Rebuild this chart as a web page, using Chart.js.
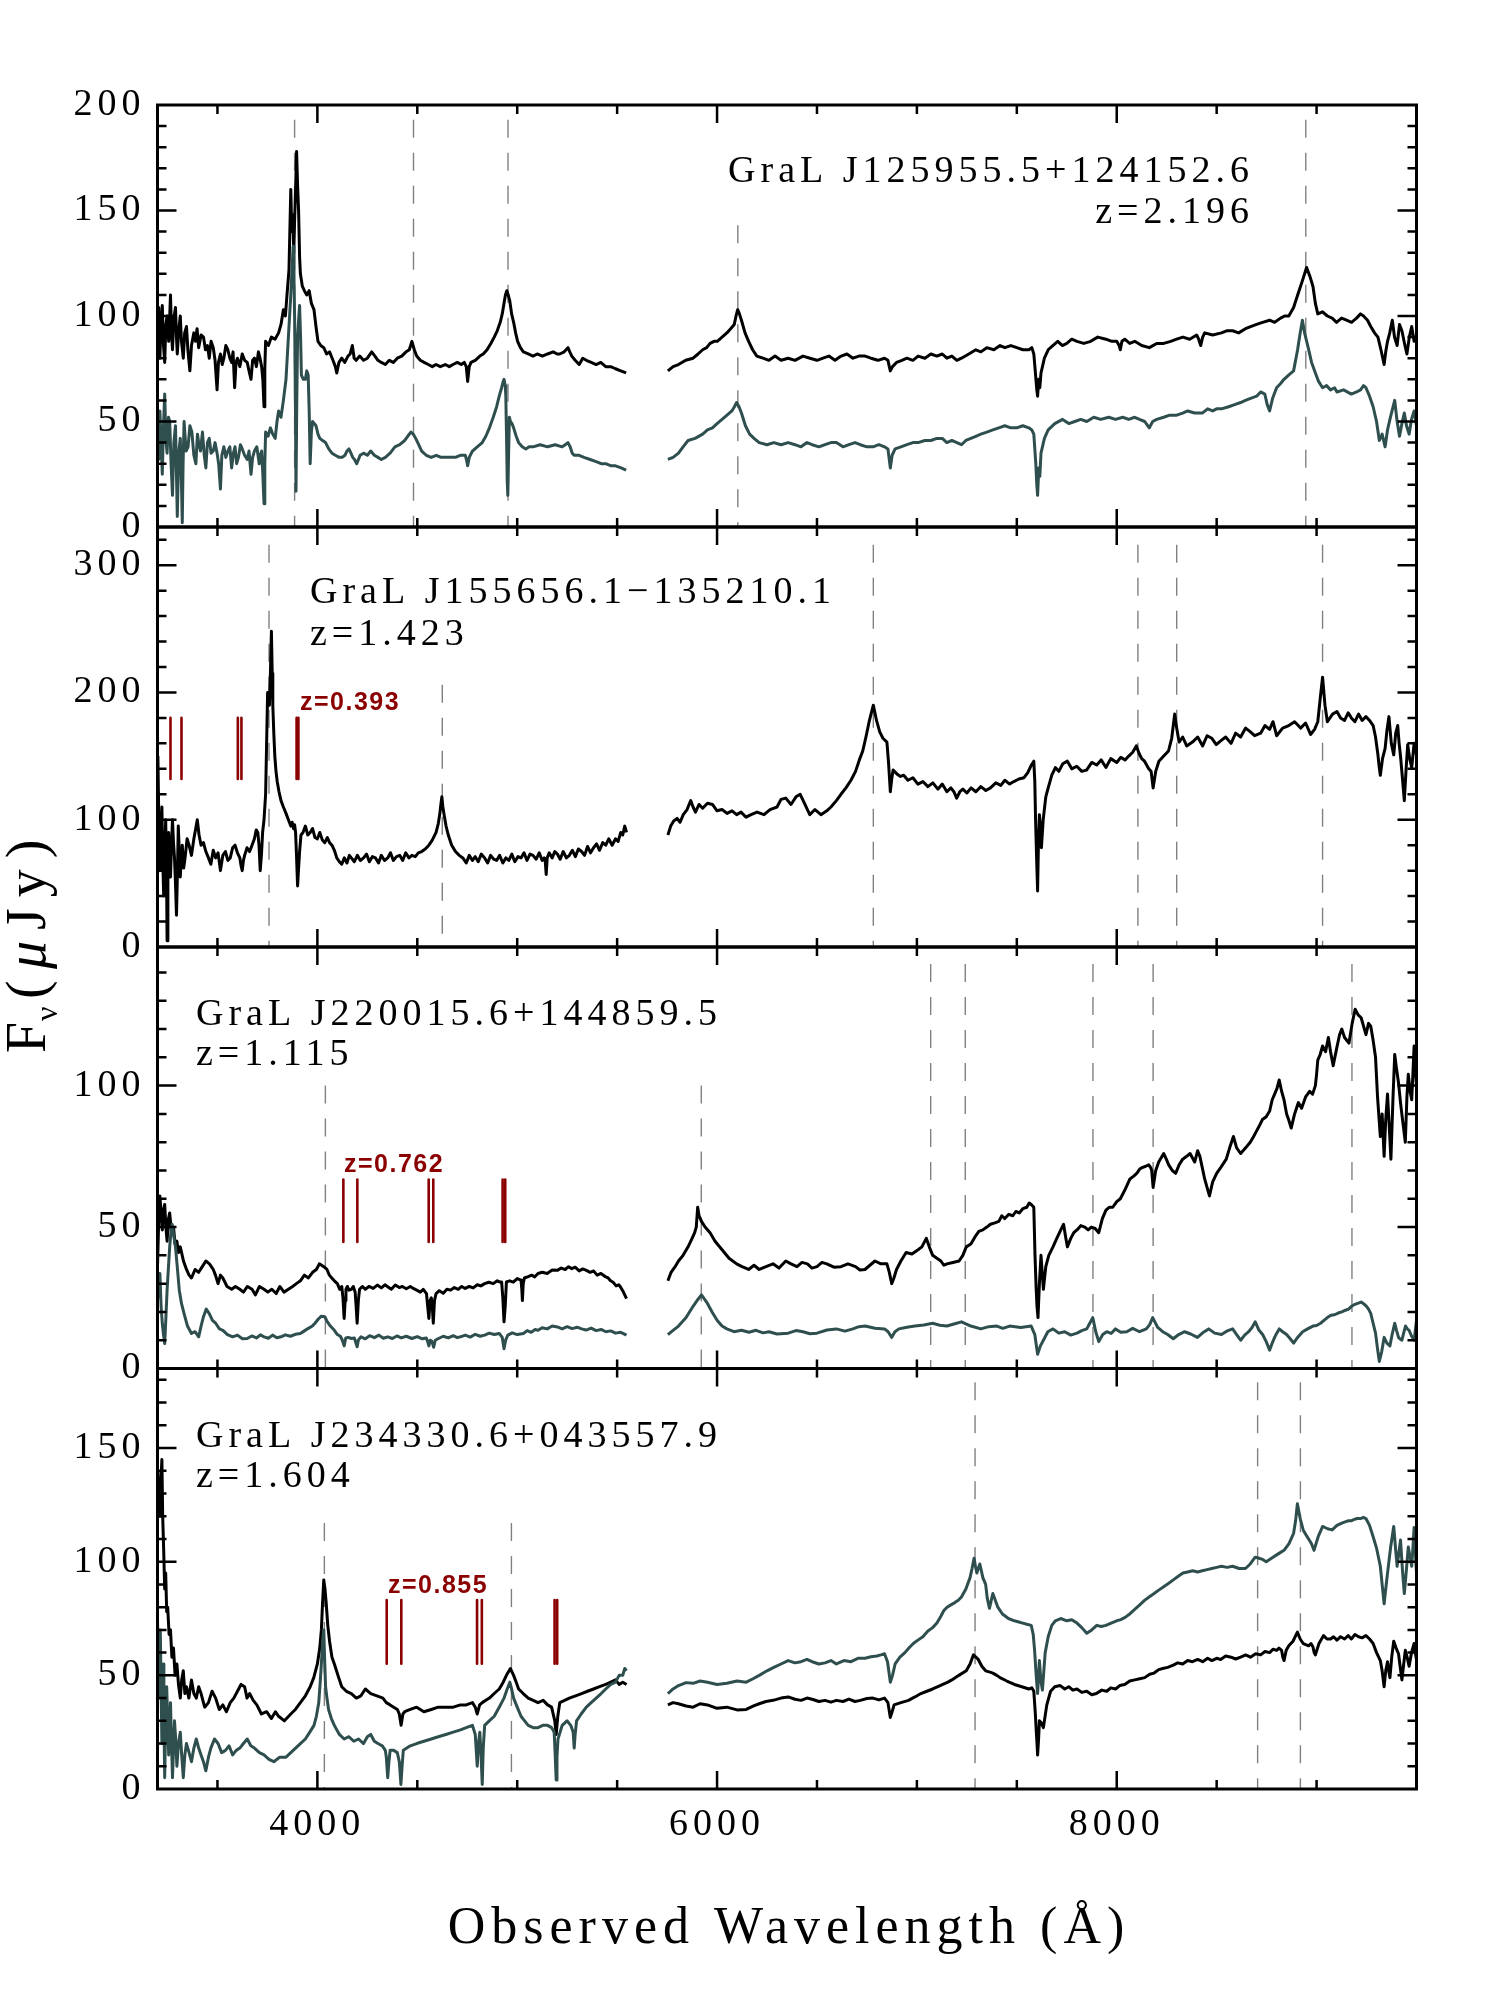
<!DOCTYPE html>
<html><head><meta charset="utf-8">
<script src="https://cdn.jsdelivr.net/npm/chart.js@4.4.1/dist/chart.umd.min.js"></script>
<style>
html,body{margin:0;padding:0;background:#fff;}
body{width:1495px;height:1991px;position:relative;overflow:hidden;}
canvas{position:absolute;left:0;top:0;}
</style></head>
<body>
<canvas id="c1" width="1495" height="1991"></canvas>
<canvas id="c2" width="1495" height="1991"></canvas>
<canvas id="c3" width="1495" height="1991"></canvas>
<canvas id="c4" width="1495" height="1991"></canvas>
<script>
// ---------------- DATA ----------------
const xMajorTicks = [4000, 6000, 8000];
const xMinorTicks = [3500, 4500, 5000, 5500, 6500, 7000, 7500, 8500, 9000];
const p1YTicks = [0, 50, 100, 150, 200];
const p2YTicks = [0, 100, 200, 300];
const p3YTicks = [0, 50, 100];
const p4YTicks = [0, 50, 100, 150];

const p1Name = 'GraL J125955.5+124152.6', p1Z = 'z=2.196';
const p2Name = 'GraL J155656.1\u2212135210.1', p2Z = 'z=1.423';
const p3Name = 'GraL J220015.6+144859.5', p3Z = 'z=1.115';
const p4Name = 'GraL J234330.6+043557.9', p4Z = 'z=1.604';
const p2AbsLabel = 'z=0.393', p3AbsLabel = 'z=0.762', p4AbsLabel = 'z=0.855';

// quasar emission lines (dashed) and the flux they reach
const p1EmLines = [3886, 4481, 4954, 6104, 8946];
const p1EmTops  = [193, 193, 193, 143, 193];
const p2EmLines = [3758, 4625, 6782, 8106, 8300, 9030];
const p2EmTops  = [316, 206, 316, 316, 316, 316];
const p3EmLines = [4040, 5921, 7069, 7242, 7881, 8182, 9177];
const p3EmTops  = [100, 100, 143, 143, 143, 143, 143];
const p4EmLines = [4035, 4971, 7291, 8705, 8919];
const p4EmTops  = [117, 117, 179, 179, 179];

// absorber line markers (red)
const p2AbsLines = [3265, 3320, 3602, 3620, 3896, 3905];
const p2AbsRange = [132, 180];
const p3AbsLines = [4130, 4200, 4557, 4580, 4927, 4940];
const p3AbsRange = [44.7, 66.8];
const p4AbsLines = [4347, 4420, 4799, 4823, 5187, 5200];
const p4AbsRange = [55.1, 83.1];

// spectra [wavelength, flux]
const p1BlackBlue = [[3200,95],[3206,104],[3212,80],[3218,98],[3224,105],[3230,86],[3236,78],[3242,96],[3248,100],[3256,88],[3260,97],[3265,110],[3270,92],[3275,84],[3282,99],[3290,104],[3295,90],[3299,82],[3306,93],[3314,100],[3320,88],[3329,80],[3336,92],[3345,95],[3352,84],[3362,74],[3370,86],[3382,92],[3390,88],[3398,94],[3406,85],[3418,91],[3430,90],[3440,84],[3450,86],[3459,80],[3468,88],[3479,85],[3488,79],[3498,65],[3505,78],[3515,82],[3524,77],[3532,80],[3542,86],[3552,84],[3562,80],[3571,78],[3578,83],[3586,66],[3593,78],[3600,80],[3612,76],[3624,82],[3636,79],[3649,78],[3658,74],[3668,70],[3676,79],[3685,80],[3695,76],[3705,83],[3713,80],[3721,76],[3727,70],[3733,57],[3737,75],[3741,88],[3755,86],[3770,90],[3788,89],[3806,92],[3818,96],[3830,103],[3840,100],[3848,110],[3858,122],[3867,160],[3872,140],[3877,148],[3882,130],[3886,145],[3891,160],[3896,178],[3901,162],[3906,150],[3911,128],[3915,120],[3925,114],[3935,112],[3947,110],[3959,112],[3970,106],[3983,103],[3993,95],[4003,88],[4017,86],[4032,85],[4046,82],[4061,83],[4078,79],[4090,76],[4097,73],[4108,78],[4122,80],[4137,78],[4153,81],[4164,82],[4175,86],[4184,80],[4194,79],[4212,81],[4231,79],[4250,80],[4272,83],[4288,81],[4303,79],[4320,78],[4340,77],[4360,79],[4380,78],[4400,80],[4422,81],[4444,83],[4460,84],[4473,88],[4485,84],[4497,81],[4515,79],[4534,78],[4555,77],[4575,76],[4594,77],[4615,76],[4640,77],[4660,76],[4679,77],[4700,78],[4720,77],[4735,78],[4745,76],[4752,69],[4760,76],[4769,78],[4790,79],[4813,81],[4830,82],[4849,84],[4868,87],[4885,90],[4900,93],[4915,97],[4925,101],[4934,106],[4941,110],[4948,112],[4955,110],[4963,107],[4972,101],[4982,97],[4992,92],[5002,88],[5016,85],[5031,83],[5055,82],[5079,81],[5100,82],[5126,81],[5152,82],[5180,83],[5200,82],[5213,82],[5235,83],[5254,85],[5263,83],[5273,81],[5290,79],[5310,77],[5328,80],[5346,79],[5370,78],[5395,77],[5418,78],[5443,76],[5468,76],[5492,75],[5518,74],[5545,73]];
const p1BlackRed = [[5754,74],[5780,76],[5807,77],[5843,79],[5880,80],[5905,82],[5928,84],[5948,85],[5965,87],[5985,88],[6001,88],[6025,90],[6049,92],[6068,94],[6086,96],[6095,100],[6103,103],[6112,101],[6122,98],[6140,92],[6158,88],[6178,84],[6199,81],[6230,80],[6260,79],[6290,81],[6320,79],[6356,80],[6390,79],[6430,81],[6465,80],[6500,79],[6530,80],[6560,81],[6590,79],[6621,81],[6650,82],[6680,80],[6710,81],[6741,81],[6770,80],[6805,79],[6838,80],[6855,79],[6862,76],[6867,74],[6878,76],[6898,78],[6925,79],[6950,80],[6980,79],[7006,81],[7040,80],[7070,82],[7100,81],[7127,82],[7150,80],[7175,81],[7200,79],[7223,80],[7260,82],[7295,84],[7320,83],[7350,85],[7385,84],[7416,86],[7440,85],[7470,86],[7500,85],[7530,84],[7560,84],[7575,85],[7585,82],[7594,72],[7600,65],[7604,62],[7610,70],[7615,66],[7621,73],[7638,80],[7657,84],[7680,86],[7705,88],[7728,86],[7750,87],[7775,89],[7801,88],[7835,87],[7870,88],[7905,90],[7946,89],[7975,88],[8000,88],[8012,86],[8018,84],[8026,88],[8040,89],[8065,87],[8090,88],[8125,86],[8163,85],[8200,87],[8235,87],[8270,88],[8300,89],[8331,90],[8365,89],[8400,91],[8410,89],[8420,86],[8430,90],[8440,92],[8480,91],[8524,92],[8550,93],[8580,93],[8610,92],[8644,94],[8670,95],[8700,96],[8730,97],[8765,98],[8790,97],[8820,99],[8840,100],[8861,100],[8885,104],[8909,111],[8930,117],[8950,123],[8966,119],[8982,114],[8994,106],[9006,101],[9030,102],[9054,100],[9078,99],[9100,97],[9125,99],[9150,98],[9175,97],[9200,99],[9220,101],[9235,100],[9255,98],[9271,95],[9290,92],[9307,90],[9322,84],[9338,77],[9346,83],[9355,88],[9366,92],[9379,98],[9390,90],[9403,86],[9415,96],[9427,93],[9440,87],[9452,82],[9464,90],[9476,95],[9488,88],[9500,90]];
const p1TealBlue = [[3200,45],[3206,32],[3212,55],[3218,40],[3224,25],[3230,48],[3236,63],[3242,42],[3248,35],[3255,52],[3261,50],[3268,30],[3275,15],[3282,40],[3290,48],[3295,25],[3299,5],[3306,35],[3314,42],[3320,20],[3324,2],[3328,30],[3333,50],[3343,36],[3353,38],[3362,48],[3372,45],[3382,34],[3392,30],[3400,44],[3406,40],[3415,36],[3425,45],[3434,34],[3442,28],[3450,40],[3459,42],[3468,35],[3479,36],[3488,40],[3498,35],[3506,30],[3515,18],[3522,34],[3532,38],[3542,33],[3552,36],[3562,38],[3571,28],[3580,35],[3588,38],[3596,30],[3605,33],[3615,39],[3624,37],[3636,34],[3649,32],[3658,36],[3668,25],[3676,33],[3685,36],[3697,38],[3709,30],[3715,34],[3721,36],[3727,25],[3733,11],[3737,30],[3741,45],[3753,43],[3765,47],[3777,44],[3789,42],[3798,50],[3806,55],[3818,52],[3830,60],[3843,70],[3855,90],[3867,110],[3873,122],[3879,133],[3883,118],[3886,100],[3890,60],[3893,17],[3897,60],[3901,90],[3906,98],[3911,105],[3916,90],[3920,72],[3930,70],[3940,70],[3947,74],[3954,72],[3959,55],[3964,30],[3970,45],[3976,50],[3985,49],[3993,48],[4003,44],[4012,42],[4026,41],[4041,40],[4057,37],[4073,35],[4090,34],[4109,33],[4124,33],[4138,34],[4148,36],[4158,37],[4168,35],[4177,33],[4186,32],[4197,30],[4214,34],[4231,35],[4250,34],[4267,36],[4285,34],[4303,33],[4320,32],[4340,33],[4364,35],[4388,38],[4412,39],[4437,41],[4452,43],[4468,45],[4480,44],[4492,42],[4507,39],[4522,36],[4545,34],[4570,33],[4595,34],[4619,33],[4655,33],[4691,33],[4715,34],[4740,34],[4746,32],[4752,29],[4760,33],[4776,36],[4800,38],[4825,40],[4843,43],[4861,47],[4880,52],[4897,57],[4910,62],[4922,66],[4930,69],[4934,70],[4940,67],[4943,62],[4947,40],[4950,22],[4953,15],[4957,35],[4961,52],[4966,50],[4974,49],[4982,47],[4995,43],[5007,40],[5025,38],[5043,37],[5060,38],[5079,38],[5115,39],[5152,38],[5190,39],[5225,38],[5240,39],[5254,40],[5265,38],[5275,35],[5285,34],[5310,34],[5334,33],[5365,32],[5395,31],[5420,30],[5443,30],[5470,29],[5492,29],[5520,28],[5545,27]];
const p1TealRed = [[5754,32],[5780,33],[5807,35],[5830,38],[5855,41],[5890,42],[5928,44],[5952,46],[5977,47],[6000,49],[6025,51],[6050,53],[6074,55],[6087,57],[6098,59],[6110,57],[6122,54],[6142,48],[6163,44],[6185,42],[6211,40],[6250,39],[6284,40],[6320,39],[6356,40],[6390,39],[6420,38],[6450,40],[6476,39],[6510,38],[6540,39],[6570,40],[6597,40],[6630,38],[6660,39],[6690,40],[6717,39],[6750,38],[6780,38],[6810,39],[6838,38],[6855,37],[6867,28],[6876,34],[6891,37],[6920,38],[6950,39],[6980,40],[7006,40],[7040,41],[7070,41],[7100,42],[7127,42],[7150,40],[7175,41],[7200,40],[7223,39],[7245,41],[7270,42],[7295,43],[7320,44],[7350,45],[7380,46],[7410,47],[7440,48],[7470,47],[7500,47],[7530,48],[7560,47],[7575,46],[7585,44],[7595,30],[7600,20],[7604,15],[7610,28],[7615,24],[7621,35],[7638,42],[7657,46],[7690,49],[7729,51],[7760,49],[7790,50],[7820,51],[7850,50],[7885,52],[7920,51],[7960,52],[7994,51],[8030,52],[8060,51],[8090,52],[8114,51],[8140,50],[8155,48],[8163,47],[8180,50],[8200,51],[8235,52],[8265,53],[8300,53],[8330,54],[8355,55],[8390,54],[8428,54],[8455,56],[8480,55],[8500,56],[8524,56],[8560,57],[8590,58],[8620,59],[8644,60],[8670,61],[8700,62],[8720,64],[8741,63],[8753,58],[8765,55],[8780,61],[8800,66],[8820,68],[8837,70],[8860,72],[8885,74],[8905,84],[8918,92],[8929,98],[8940,92],[8958,85],[8975,78],[8994,73],[9010,69],[9030,66],[9050,67],[9070,65],[9090,66],[9102,64],[9135,65],[9174,63],[9200,64],[9220,65],[9235,67],[9247,66],[9265,62],[9283,57],[9300,50],[9314,41],[9328,44],[9343,38],[9355,46],[9367,51],[9380,56],[9391,60],[9403,50],[9415,43],[9427,49],[9439,54],[9450,48],[9463,44],[9475,51],[9488,55],[9500,48]];

const p2BlackBlue = [[3202,150],[3207,95],[3212,60],[3217,85],[3222,110],[3226,70],[3231,40],[3236,75],[3241,100],[3245,60],[3248,5],[3252,50],[3256,90],[3260,70],[3265,55],[3270,80],[3275,100],[3280,82],[3285,70],[3290,50],[3295,25],[3300,60],[3304,95],[3309,75],[3314,55],[3319,70],[3324,80],[3331,62],[3338,70],[3348,85],[3358,80],[3370,72],[3382,85],[3390,92],[3399,100],[3408,88],[3418,80],[3430,82],[3442,75],[3455,70],[3467,65],[3479,76],[3491,70],[3503,74],[3515,60],[3527,72],[3540,75],[3552,68],[3564,70],[3576,78],[3588,80],[3600,74],[3612,70],[3618,64],[3624,60],[3630,68],[3636,72],[3648,78],[3661,75],[3673,80],[3685,85],[3694,92],[3702,90],[3708,80],[3714,60],[3720,72],[3726,90],[3733,100],[3741,120],[3746,160],[3751,200],[3756,195],[3760,190],[3765,215],[3770,248],[3774,215],[3777,190],[3782,168],[3787,150],[3793,138],[3799,130],[3808,122],[3818,115],[3830,110],[3843,105],[3855,100],[3867,95],[3874,98],[3881,93],[3886,96],[3891,90],[3896,70],[3901,48],[3906,62],[3911,75],[3918,88],[3928,90],[3940,95],[3952,88],[3964,90],[3976,93],[3988,86],[4000,85],[4012,90],[4025,84],[4037,82],[4050,86],[4061,82],[4073,80],[4085,76],[4097,70],[4110,67],[4122,65],[4135,70],[4148,66],[4160,72],[4170,70],[4185,67],[4200,72],[4215,68],[4231,70],[4246,73],[4260,67],[4275,71],[4291,70],[4306,66],[4320,72],[4336,68],[4352,70],[4366,74],[4380,68],[4396,71],[4412,72],[4427,68],[4442,74],[4458,70],[4473,72],[4490,71],[4505,74],[4522,75],[4540,77],[4558,80],[4575,84],[4594,90],[4605,97],[4613,105],[4618,112],[4623,118],[4628,110],[4633,105],[4644,95],[4655,88],[4672,80],[4691,75],[4710,72],[4728,70],[4745,66],[4760,72],[4776,68],[4790,71],[4805,67],[4820,73],[4837,70],[4852,66],[4867,72],[4882,69],[4897,68],[4912,72],[4928,66],[4943,70],[4958,68],[4973,73],[4988,67],[5004,71],[5019,70],[5034,74],[5049,68],[5064,73],[5079,72],[5095,69],[5110,74],[5125,68],[5135,70],[5140,68],[5145,57],[5150,70],[5160,74],[5175,70],[5188,75],[5201,73],[5215,69],[5230,75],[5246,70],[5261,72],[5276,76],[5291,71],[5306,77],[5322,75],[5337,72],[5352,79],[5367,74],[5382,78],[5397,81],[5412,76],[5428,82],[5443,80],[5458,85],[5475,80],[5492,85],[5505,83],[5518,90],[5528,88],[5538,95],[5547,90]];
const p2BlackRed = [[5754,88],[5768,95],[5783,99],[5800,101],[5815,98],[5831,104],[5850,108],[5868,115],[5880,110],[5892,106],[5910,112],[5928,109],[5952,113],[5977,112],[6000,107],[6025,108],[6050,105],[6075,107],[6098,104],[6120,106],[6145,102],[6170,104],[6200,106],[6235,104],[6265,108],[6300,110],[6320,116],[6344,117],[6370,112],[6395,118],[6416,120],[6428,116],[6440,112],[6452,108],[6464,104],[6490,108],[6520,104],[6549,107],[6570,110],[6597,115],[6620,120],[6645,125],[6670,131],[6693,138],[6712,147],[6729,154],[6745,165],[6761,177],[6772,184],[6782,190],[6798,178],[6814,169],[6830,164],[6850,161],[6858,145],[6867,122],[6874,132],[6881,139],[6900,136],[6918,134],[6934,135],[6955,131],[6980,133],[7005,128],[7030,130],[7055,126],[7080,129],[7105,124],[7127,128],[7150,122],[7170,125],[7185,122],[7199,117],[7215,122],[7230,124],[7250,121],[7271,125],[7295,122],[7320,126],[7345,123],[7368,125],[7395,129],[7420,127],[7440,131],[7464,128],[7485,130],[7510,132],[7536,133],[7555,137],[7573,143],[7585,146],[7590,130],[7594,99],[7599,70],[7604,44],[7608,80],[7613,104],[7618,95],[7623,78],[7632,100],[7645,118],[7657,125],[7675,135],[7693,141],[7710,138],[7730,144],[7753,146],[7775,140],[7800,142],[7825,138],[7849,139],[7875,145],[7900,143],[7922,147],[7946,141],[7970,148],[8000,145],[8020,149],[8042,147],[8060,150],[8080,153],[8098,158],[8112,152],[8125,148],[8139,146],[8160,140],[8172,138],[8182,125],[8195,138],[8211,146],[8235,150],[8259,154],[8275,164],[8290,183],[8300,172],[8312,161],[8330,165],[8350,158],[8379,161],[8405,165],[8430,158],[8452,166],[8476,164],[8498,159],[8520,162],[8545,165],[8572,160],[8595,168],[8620,165],[8645,172],[8669,169],[8690,166],[8720,168],[8742,174],[8765,171],[8782,177],[8800,166],[8830,172],[8861,174],[8890,177],[8920,172],[8945,176],[8970,167],[8990,171],[9006,177],[9018,195],[9030,212],[9042,190],[9054,177],[9080,183],[9102,185],[9120,180],[9140,178],[9158,184],[9174,180],[9192,177],[9210,183],[9228,178],[9247,181],[9265,178],[9283,174],[9295,165],[9307,151],[9313,142],[9319,135],[9330,148],[9343,156],[9352,170],[9362,181],[9374,160],[9386,151],[9396,168],[9406,174],[9413,160],[9420,150],[9430,132],[9439,115],[9448,140],[9456,159],[9466,148],[9476,141],[9488,160],[9500,151]];

const p3BlackBlue = [[3200,36],[3206,52],[3212,61],[3218,55],[3224,49],[3230,56],[3236,58],[3242,50],[3248,45],[3255,53],[3261,55],[3270,48],[3280,50],[3288,44],[3297,45],[3305,41],[3314,43],[3330,38],[3345,35],[3358,33],[3370,32],[3388,35],[3406,34],[3424,36],[3442,38],[3460,37],[3479,35],[3490,33],[3503,30],[3515,33],[3527,32],[3548,29],[3571,28],[3590,29],[3612,28],[3630,27],[3650,29],[3673,28],[3690,26],[3710,29],[3733,28],[3752,27],[3772,28],[3794,26.5],[3812,29],[3833,27],[3855,28],[3876,29],[3895,30],[3915,31],[3935,33],[3955,32],[3976,34],[3995,35],[4010,37],[4032,36],[4048,35],[4060,33],[4072,32],[4085,31],[4100,30],[4112,28],[4122,29],[4128,25],[4134,17.7],[4139,24],[4143,28],[4150,29],[4158,27.7],[4170,28],[4180,29],[4189,27],[4194,22],[4199,16],[4205,24],[4211,28],[4225,29],[4240,28],[4258,29],[4279,28.3],[4300,29.5],[4320,28.5],[4338,29.6],[4352,28.9],[4370,28],[4390,29.5],[4410,28.6],[4425,29],[4445,28.2],[4465,29],[4480,28.3],[4497,27.7],[4515,27],[4530,28],[4546,26.5],[4552,22],[4558,17.7],[4564,24],[4570,25],[4575,22],[4580,16],[4586,24],[4594,26.5],[4610,27.5],[4630,26.6],[4648,28],[4667,27.7],[4685,28.6],[4705,28],[4722,29],[4740,28.3],[4760,29],[4780,28.5],[4800,29.6],[4818,29.2],[4837,30],[4858,30.5],[4880,30],[4900,31],[4915,30.5],[4922,30.6],[4928,25],[4934,16.5],[4940,22],[4946,30.6],[4962,31],[4980,30.5],[5000,31.8],[5019,31.2],[5023,28],[5026,24],[5030,30],[5036,32],[5055,32.5],[5072,33],[5088,32.4],[5104,33.6],[5125,34],[5150,33.6],[5175,34.8],[5201,34.7],[5220,35.5],[5240,35],[5257,36],[5273,35.3],[5290,35.8],[5310,34.5],[5328,35.2],[5346,34.7],[5365,34],[5382,34.5],[5400,33],[5419,33.6],[5440,32.5],[5455,32],[5467,31],[5480,30.5],[5495,29.2],[5508,29.6],[5516,28.9],[5528,27.5],[5538,26],[5547,24.7]];
const p3BlackRed = [[5754,31],[5770,34],[5790,36],[5807,38],[5830,40],[5855,43],[5875,46],[5888,48],[5896,50],[5903,57],[5910,54],[5922,52],[5940,50],[5965,48],[5990,45],[6025,42],[6060,39],[6098,37],[6125,36],[6158,35],[6185,36.5],[6211,35],[6245,36],[6280,37],[6310,35.5],[6344,38],[6370,37],[6400,36],[6425,37.5],[6452,37],[6475,35.5],[6500,36],[6525,37.5],[6549,37],[6585,35.8],[6620,36],[6655,37],[6693,36],[6715,34.8],[6740,35],[6765,36.5],[6790,38],[6820,37],[6850,37],[6862,34],[6874,30],[6885,32],[6898,35],[6920,38],[6946,41],[6975,40.5],[7006,42],[7025,43],[7047,46],[7062,43],[7079,40],[7100,39],[7120,38],[7135,36.5],[7151,37],[7180,37.5],[7211,38],[7230,40],[7247,43],[7270,44],[7295,47],[7310,48.5],[7330,49],[7350,50],[7368,51],[7390,51.5],[7410,52],[7425,54],[7440,53],[7460,54.5],[7480,54],[7495,55.5],[7512,55],[7530,56.5],[7550,57],[7562,58.5],[7572,58],[7585,57],[7591,40],[7597,28],[7601,22],[7606,18],[7613,30],[7621,40],[7627,34],[7633,28],[7645,36],[7660,40],[7681,43],[7700,46],[7720,49],[7734,51],[7743,47],[7753,43],[7770,46],[7785,48],[7801,49],[7820,50.5],[7840,50],[7857,49],[7873,50],[7892,49.5],[7910,48],[7928,53],[7946,56],[7962,57],[7980,57],[8000,59],[8018,60],[8040,63],[8066,67],[8085,68],[8100,69],[8115,70.5],[8127,71],[8145,71.5],[8160,72],[8170,71],[8175,70],[8182,64],[8195,70],[8210,73],[8235,76],[8248,74],[8260,72],[8278,70],[8295,69],[8312,72],[8330,74],[8350,75],[8367,76],[8390,73],[8405,77],[8416,75],[8428,71],[8440,67],[8452,64],[8464,61],[8480,66],[8500,69],[8520,71],[8548,74],[8565,78],[8584,82],[8600,78],[8620,76],[8645,78],[8668,80],[8685,82],[8700,84],[8715,86],[8729,88],[8748,89],[8765,91],[8778,95],[8790,97],[8802,99],[8813,102],[8825,98],[8837,95],[8850,90],[8860,88],[8873,85],[8890,90],[8909,94],[8925,92],[8945,96],[8965,98],[8980,97],[8994,100],[9000,104],[9006,109],[9018,111],[9030,114],[9045,112],[9059,117],[9070,112],[9083,107],[9100,113],[9115,118],[9126,120],[9140,117],[9162,115],[9178,122],[9193,127],[9208,125],[9223,124],[9235,121],[9247,118],[9260,122],[9271,121],[9283,116],[9295,110],[9305,96],[9319,82],[9328,90],[9338,75],[9346,88],[9355,97],[9364,85],[9372,74],[9382,95],[9391,111],[9400,106],[9410,101],[9420,94],[9430,88],[9437,84],[9444,80],[9452,96],[9459,104],[9468,98],[9476,95],[9482,104],[9488,114],[9494,106],[9500,100]];
const p3TealBlue = [[3200,24],[3206,30],[3212,33.6],[3218,22],[3224,16],[3230,12],[3236,8.8],[3242,18],[3248,27.7],[3255,36],[3261,43],[3267,48],[3273,51],[3281,47],[3290,43],[3300,35],[3309,27.7],[3320,23],[3333,19.4],[3350,15],[3370,12.4],[3388,13],[3406,11.2],[3418,15],[3430,18.3],[3444,21],[3459,19.4],[3475,17],[3491,16],[3510,14],[3527,13.5],[3550,12],[3576,11.2],[3600,11.8],[3625,10.5],[3649,10.6],[3672,11.5],[3695,10.8],[3715,11.9],[3733,11.2],[3755,10.7],[3776,11.8],[3797,10.9],[3818,11.2],[3840,11.9],[3865,11.4],[3890,12.1],[3915,12.4],[3935,13.3],[3955,14.2],[3975,15],[3988,16],[4005,17.5],[4020,18.5],[4037,18.3],[4050,16.5],[4065,15],[4085,13.5],[4100,12],[4115,11.4],[4125,10],[4134,8],[4142,10.8],[4155,11],[4170,10.6],[4185,10.8],[4193,9],[4199,7.7],[4205,10],[4218,11.2],[4240,10.5],[4262,11.6],[4285,10.9],[4308,11.8],[4330,10.7],[4352,11.2],[4375,10.6],[4398,11.5],[4420,10.8],[4445,11.4],[4473,10.6],[4500,11.3],[4525,10.5],[4545,10.8],[4552,9.5],[4558,8],[4565,10],[4573,9.6],[4582,7.5],[4590,10],[4606,10.6],[4630,11.4],[4655,10.8],[4680,11.6],[4700,10.9],[4716,11.2],[4740,11.8],[4765,11.1],[4790,12.1],[4815,11.4],[4837,11.8],[4860,12.5],[4885,12],[4910,12.4],[4925,11],[4934,7],[4942,10],[4953,11.8],[4975,12.6],[5000,12],[5031,12.4],[5050,13.4],[5070,12.8],[5090,13.8],[5104,13.5],[5125,14.4],[5150,14],[5175,15],[5201,14.7],[5225,14],[5250,14.8],[5275,14.1],[5300,14.6],[5322,14],[5345,13.6],[5370,14.3],[5395,13.4],[5420,13.8],[5443,13],[5468,13.3],[5492,12.5],[5518,12.8],[5547,11.8]];
const p3TealRed = [[5754,12],[5780,13.5],[5807,15],[5845,18],[5880,22],[5905,24.5],[5922,26],[5937,24.5],[5952,23],[5975,20],[6001,17],[6025,15],[6049,14],[6085,13],[6122,13.5],[6160,12.8],[6195,13.5],[6230,12.6],[6260,13],[6300,12.2],[6356,12.5],[6395,13.4],[6430,13],[6465,12.3],[6500,12.5],[6550,13.6],[6597,14],[6640,13.2],[6680,14],[6710,14.8],[6741,15],[6790,14.2],[6838,14],[6856,13],[6874,11],[6890,13],[6910,14],[6950,14.6],[6990,15],[7035,15.4],[7079,16],[7115,15.3],[7150,15],[7190,15.8],[7223,16.5],[7270,15],[7320,14],[7360,14.8],[7400,15],[7430,14.2],[7464,15],[7520,14.5],[7572,15],[7590,12],[7604,5],[7618,8],[7633,10],[7655,13],[7681,14],[7710,12.5],[7740,13],[7770,11.8],[7801,12.5],[7825,13.4],[7850,14],[7865,16],[7880,18],[7895,13],[7910,9.5],[7930,12],[7950,13],[7972,12.4],[7994,14],[8020,12.8],[8050,13],[8080,14.2],[8114,13],[8148,14],[8165,15.5],[8180,18],[8205,14.5],[8230,13],[8255,12],[8283,10.5],[8310,12],[8340,13],[8370,12.2],[8404,11],[8430,12.6],[8460,14],[8490,12.5],[8524,12],[8550,13.2],[8580,14],[8600,12],[8620,10],[8640,11.8],[8660,13],[8677,14.5],[8693,16.5],[8712,13.5],[8730,12],[8748,9.5],[8765,6.5],[8778,9],[8790,11],[8800,12.4],[8813,14],[8830,13],[8850,12],[8868,10.5],[8885,9],[8905,11],[8930,13],[8955,14],[8982,15],[9000,15.2],[9020,16],[9037,17],[9054,18],[9072,18.8],[9090,19],[9108,19.6],[9126,20],[9145,20.6],[9160,21],[9172,21.8],[9186,22.5],[9205,23],[9223,23.5],[9237,22.8],[9250,22],[9260,21],[9271,19.5],[9283,16],[9295,12.5],[9305,7],[9314,2.5],[9326,6],[9338,11],[9352,9],[9367,8],[9378,12],[9391,16],[9400,13.5],[9410,11],[9418,10.4],[9427,10],[9436,12.6],[9445,15],[9454,14],[9463,13.5],[9475,11.5],[9488,10],[9494,13.5],[9500,17]];

const p4BlackBlue = [[3202,140],[3206,125],[3212,120],[3217,135],[3222,145],[3226,120],[3231,105],[3236,88],[3241,95],[3246,78],[3251,80],[3258,68],[3265,70],[3272,58],[3280,62],[3288,50],[3297,55],[3305,46],[3314,40],[3321,48],[3329,52],[3337,42],[3345,45],[3357,40],[3370,48],[3382,42],[3394,40],[3406,45],[3418,42],[3436,36],[3455,38],[3473,43],[3491,40],[3509,35],[3527,37],[3545,34],[3564,38],[3582,40],[3600,43],[3618,46],[3636,45],[3648,40],[3661,42],[3679,39],[3697,37],[3720,33],[3746,34],[3770,31],[3790,34],[3806,32],[3835,30],[3867,33],[3890,35],[3915,38],[3940,41],[3964,45],[3982,49],[4000,55],[4012,62],[4020,70],[4026,82],[4032,92],[4038,88],[4044,82],[4052,72],[4061,65],[4073,58],[4085,55],[4103,50],[4122,45],[4145,43],[4170,42],[4195,40],[4218,41],[4240,44],[4267,42],[4298,41],[4328,40],[4345,38],[4364,37],[4382,36],[4400,35],[4410,33],[4419,28],[4428,33],[4437,34],[4465,35],[4497,36],[4533,34],[4570,35],[4605,36],[4643,36],[4680,36],[4716,37],[4745,37],[4776,38],[4790,36],[4800,33],[4812,37],[4825,38],[4843,39],[4861,40],[4885,42],[4910,44],[4930,47],[4946,50],[4966,53],[4982,50],[4995,47],[5007,44],[5030,42],[5055,40],[5080,39],[5104,38],[5130,39],[5152,37],[5172,36],[5188,30],[5195,24],[5203,32],[5213,38],[5237,39],[5261,40],[5292,41],[5322,42],[5352,43],[5382,44],[5412,45],[5443,46],[5468,47],[5492,48],[5510,46],[5528,47],[5547,46]];
const p4BlackRed = [[5754,37],[5780,38],[5807,37.5],[5845,36.5],[5880,36],[5915,37.5],[5952,37],[6000,35.5],[6049,36],[6100,34.8],[6146,35],[6180,36.5],[6211,37.5],[6245,38.5],[6280,39],[6320,40],[6356,40.5],[6390,39.5],[6420,39],[6450,40],[6476,39.5],[6510,38.5],[6540,39],[6570,38.2],[6597,39],[6630,38.5],[6660,39.5],[6690,38.5],[6717,39],[6750,39.8],[6780,40],[6810,39.2],[6838,40],[6855,38],[6867,31.5],[6876,34],[6886,37],[6920,38],[6958,39],[6990,40.5],[7020,42],[7050,43],[7079,44],[7105,45],[7130,46],[7155,47],[7175,48],[7210,50],[7247,52],[7266,55],[7283,59],[7295,58],[7307,57],[7325,54],[7344,52],[7362,51.5],[7380,51],[7400,50],[7416,49],[7450,47.5],[7488,46],[7525,45],[7560,44],[7575,44.5],[7585,43],[7592,34],[7597,26],[7601,20],[7604,15],[7609,22],[7613,30],[7623,29],[7633,27],[7650,37],[7669,43],[7690,45],[7717,45.5],[7740,44],[7760,45],[7780,43.5],[7801,44],[7825,42.5],[7850,43],[7875,41.5],[7898,42],[7925,43.5],[7950,43],[7970,44.5],[7994,44],[8015,45.5],[8040,46],[8065,47.5],[8090,48],[8115,48.5],[8140,49],[8165,50.5],[8187,51],[8210,52.5],[8230,53],[8255,53.5],[8283,54.5],[8305,55.5],[8330,55],[8355,56.5],[8379,56],[8405,57],[8430,56],[8455,57.5],[8476,56.5],[8500,57.5],[8520,57],[8545,58.5],[8572,58],[8595,57.2],[8620,58],[8645,59],[8669,58],[8695,59.5],[8720,59],[8742,60.5],[8765,60],[8782,61.5],[8800,61],[8812,62],[8825,61],[8831,58],[8837,56.5],[8848,61],[8861,63],[8882,65],[8904,69],[8918,66],[8933,64],[8946,63.5],[8960,63],[8972,64],[8982,62.5],[8988,60],[8994,59],[9012,64],[9035,67.5],[9052,66],[9070,66],[9085,67],[9102,65.5],[9120,67],[9140,66],[9158,67.5],[9174,66],[9192,68],[9210,67],[9228,66.5],[9247,67.5],[9265,66],[9283,64],[9300,60],[9319,56.5],[9328,52],[9338,45],[9346,52],[9355,56],[9361,52],[9367,49],[9376,58],[9386,65],[9398,62],[9410,59.5],[9418,54],[9427,48],[9436,55],[9444,61],[9453,58],[9463,54],[9475,60],[9488,64],[9494,60],[9500,57]];
const p4TealBlue = [[3200,75],[3204,55],[3207,40],[3211,60],[3214,70],[3218,45],[3222,20],[3226,35],[3229,55],[3232,30],[3236,5],[3240,25],[3246,45],[3251,30],[3256,15],[3260,28],[3265,38],[3270,20],[3275,5],[3280,18],[3285,30],[3291,22],[3297,10],[3305,20],[3314,25],[3321,15],[3329,5],[3337,15],[3345,20],[3358,16],[3370,12],[3382,18],[3394,22],[3406,18],[3418,15],[3430,12],[3442,8],[3455,14],[3467,18],[3485,22],[3503,20],[3521,16],[3540,17],[3558,19],[3576,15],[3594,17],[3612,18],[3630,20],[3649,22],[3667,19],[3685,18],[3710,16],[3733,15],[3758,13],[3782,12],[3812,14],[3843,14],[3867,16],[3891,18],[3915,20],[3940,22],[3962,25],[3983,28],[3995,32],[4007,38],[4015,48],[4022,58],[4027,66],[4032,70],[4036,58],[4041,45],[4048,40],[4056,35],[4070,31],[4085,28],[4110,24],[4134,22],[4158,23],[4182,21],[4206,22],[4231,20],[4250,23],[4267,24],[4285,21],[4303,20],[4325,19],[4340,17],[4345,14],[4352,5],[4358,12],[4364,17],[4382,17],[4400,16],[4410,12],[4418,2],[4424,10],[4430,17],[4465,19],[4497,20],[4533,21],[4570,22],[4605,23],[4643,24],[4680,25],[4716,26],[4745,27],[4776,28],[4790,24],[4800,10],[4806,20],[4813,25],[4819,15],[4825,2],[4830,18],[4837,28],[4860,30],[4885,32],[4910,36],[4934,40],[4950,44],[4963,47],[4972,44],[4982,40],[5000,36],[5019,32],[5037,30],[5055,28],[5080,27],[5104,27],[5128,28],[5152,28],[5172,27],[5185,25],[5190,15],[5195,4],[5199,14],[5204,22],[5225,28],[5249,30],[5268,28],[5280,25],[5285,18],[5290,24],[5297,30],[5320,33],[5346,36],[5370,38],[5395,40],[5420,42],[5443,44],[5468,46],[5492,47],[5510,50],[5528,50],[5538,53],[5547,52]];
const p4TealRed = [[5754,42],[5780,44],[5807,45.5],[5845,46.8],[5880,46.5],[5915,47.5],[5952,47],[6000,46],[6049,46.5],[6100,47.5],[6146,47],[6180,48.5],[6211,50],[6250,52],[6284,53.5],[6320,55],[6356,56.5],[6390,55.5],[6420,56],[6450,57],[6476,56],[6510,55],[6540,55.5],[6570,56.5],[6597,55],[6635,56.5],[6670,56],[6705,57.5],[6741,57.5],[6770,58.2],[6800,58.5],[6820,59],[6838,59.5],[6853,56],[6867,47],[6878,50],[6891,55],[6915,58],[6940,60],[6960,62],[6982,64],[7005,65.5],[7030,67],[7055,69.5],[7079,71],[7100,73],[7120,76],[7135,78.5],[7151,80],[7170,81],[7190,82],[7207,83],[7223,84.5],[7245,88],[7266,93],[7276,97],[7286,101.5],[7293,98],[7300,95],[7307,97],[7315,99],[7330,93],[7344,90],[7352,84],[7363,79.5],[7372,83],[7380,86],[7405,80],[7428,77],[7458,75],[7488,74],[7510,73.5],[7530,73],[7550,72.5],[7572,72],[7582,68],[7589,61],[7597,50],[7604,42],[7609,50],[7613,56.5],[7620,48],[7628,43.5],[7642,60],[7657,67],[7675,72],[7693,74],[7720,75],[7750,74],[7775,74.5],[7801,73],[7825,71],[7850,68.5],[7875,70],[7900,72],[7922,71.5],[7946,72],[7972,73],[8000,74],[8020,74.5],[8042,75.5],[8065,77],[8090,79],[8115,81],[8139,83],[8162,84.5],[8187,86],[8210,87.5],[8235,89],[8260,90.5],[8283,92],[8306,93.5],[8331,95],[8355,95.5],[8380,96],[8405,95.5],[8428,96],[8452,96.5],[8476,97],[8500,97.5],[8524,98],[8552,97.5],[8580,98],[8612,97],[8644,97],[8668,99],[8693,102],[8712,101.5],[8730,101],[8748,100],[8765,101],[8782,102],[8800,103],[8818,104],[8837,105],[8862,108],[8885,112.5],[8895,118],[8904,125.5],[8918,119],[8933,114],[8946,112],[8960,110],[8974,108],[8987,105],[9008,111],[9030,115.5],[9055,114.5],[9078,114],[9102,116],[9126,117],[9143,117.5],[9160,118],[9173,118],[9186,118.5],[9203,119],[9220,119],[9234,119.5],[9247,119],[9265,116],[9283,111],[9300,106],[9319,98],[9328,90],[9338,81.5],[9346,88],[9355,95],[9370,106],[9386,115.5],[9395,106],[9403,98],[9412,104],[9420,109.5],[9430,96],[9439,86],[9449,96],[9459,106.5],[9468,102],[9476,98],[9482,106],[9488,115],[9494,105],[9500,95]];

// ---------------- STYLE / LAYOUT ----------------
const BLACK = '#000000', TEAL = '#2f4f4f', RED = '#8b0000', GRAY = '#808080';
const X_MIN = 3200, X_MAX = 9500;
const PLOT_LEFT = 157.5, PLOT_RIGHT = 1416.5, PAGE_W = 1495, PAGE_H = 1991;
const SERIF = '"Liberation Serif", "DejaVu Serif", serif';

const panels = [
  { id:'c1', top:105, bottom:527, yMax:200, yTicks:p1YTicks, yMinorStep:10,
    black:[p1BlackBlue,p1BlackRed], teal:[p1TealBlue,p1TealRed],
    em:p1EmLines, emTop:p1EmTops, abs:null,
    name:p1Name, z:p1Z, align:'right', tx:1249, nameY:182, zY:223 },
  { id:'c2', top:527, bottom:947, yMax:330, yTicks:p2YTicks, yMinorStep:20,
    black:[p2BlackBlue,p2BlackRed], teal:[],
    em:p2EmLines, emTop:p2EmTops, abs:p2AbsLines, absRange:p2AbsRange,
    absLabel:p2AbsLabel, absX:300, absY:710,
    name:p2Name, z:p2Z, align:'left', tx:310, nameY:603, zY:645 },
  { id:'c3', top:947, bottom:1368.5, yMax:149, yTicks:p3YTicks, yMinorStep:10,
    black:[p3BlackBlue,p3BlackRed], teal:[p3TealBlue,p3TealRed],
    em:p3EmLines, emTop:p3EmTops, abs:p3AbsLines, absRange:p3AbsRange,
    absLabel:p3AbsLabel, absX:344, absY:1172,
    name:p3Name, z:p3Z, align:'left', tx:196, nameY:1025, zY:1065 },
  { id:'c4', top:1368.5, bottom:1789, yMax:185, yTicks:p4YTicks, yMinorStep:10,
    black:[p4BlackBlue,p4BlackRed], teal:[p4TealBlue,p4TealRed],
    em:p4EmLines, emTop:p4EmTops, abs:p4AbsLines, absRange:p4AbsRange,
    absLabel:p4AbsLabel, absX:388, absY:1593,
    name:p4Name, z:p4Z, align:'left', tx:196, nameY:1447, zY:1487, last:true }
];

const toXY = arr => arr.map(([x, y]) => ({x, y}));

const decoPlugin = {
  id: 'deco',
  beforeDraw(chart) { chart.ctx.letterSpacing = '5px'; },
  afterDraw(chart) {
    const p = panels.find(q => q.id === chart.canvas.id);
    const ctx = chart.ctx, a = chart.chartArea;
    const xs = chart.scales.x, ys = chart.scales.y;
    ctx.save();
    ctx.letterSpacing = '0px';
    ctx.strokeStyle = '#000';
    ctx.lineWidth = 2.5;
    ctx.beginPath();
    const vtick = (v, len) => {
      const px = xs.getPixelForValue(v);
      ctx.moveTo(px, a.top); ctx.lineTo(px, a.top + len);
      ctx.moveTo(px, a.bottom); ctx.lineTo(px, a.bottom - len);
    };
    const htick = (v, len) => {
      const py = ys.getPixelForValue(v);
      ctx.moveTo(a.left, py); ctx.lineTo(a.left + len, py);
      ctx.moveTo(a.right, py); ctx.lineTo(a.right - len, py);
    };
    xMinorTicks.forEach(v => vtick(v, 9));
    xMajorTicks.forEach(v => vtick(v, 18));
    for (let v = p.yMinorStep; v < p.yMax; v += p.yMinorStep) {
      if (!p.yTicks.includes(v)) htick(v, 9);
    }
    p.yTicks.forEach(v => { if (v > 0 && v < p.yMax) htick(v, 19); });
    ctx.stroke();
    ctx.lineWidth = 3;
    ctx.strokeRect(a.left, a.top, a.right - a.left, a.bottom - a.top);

    // panel labels
    ctx.fillStyle = '#000';
    ctx.font = '38px ' + SERIF;
    ctx.letterSpacing = '5px';
    ctx.textBaseline = 'alphabetic';
    ctx.textAlign = p.align;
    const tx = p.align === 'right' ? p.tx + 5 : p.tx;
    ctx.fillText(p.name, tx, p.nameY);
    ctx.fillText(p.z, tx, p.zY);

    if (p.absLabel) {
      ctx.fillStyle = RED;
      ctx.font = 'bold 25px "Liberation Sans", Arial, sans-serif';
      ctx.letterSpacing = '1.5px';
      ctx.textAlign = 'left';
      ctx.fillText(p.absLabel, p.absX, p.absY);
    }

    if (p.last) {
      // x-axis title
      ctx.fillStyle = '#000';
      ctx.font = '52px ' + SERIF;
      ctx.letterSpacing = '6px';
      ctx.textAlign = 'center';
      ctx.fillText('Observed Wavelength (\u00C5)', 789, 1943);
      // y-axis title (rotated)
      ctx.save();
      ctx.translate(45, 1053);
      ctx.rotate(-Math.PI / 2);
      ctx.textAlign = 'left';
      ctx.letterSpacing = '0px';
      ctx.font = '56px ' + SERIF;
      ctx.fillText('F', 0, 0);
      ctx.font = '32px ' + SERIF;
      ctx.fillText('\u03BD', 32, 12);
      ctx.font = '56px ' + SERIF;
      ctx.letterSpacing = '11px';
      ctx.fillText('(', 54, 0);
      ctx.font = 'italic 56px ' + SERIF;
      ctx.fillText('\u03BC', 54 + 19 + 11, 0);
      ctx.font = '56px ' + SERIF;
      ctx.fillText('Jy)', 54 + 19 + 11 + 28 + 11, 0);
      ctx.restore();
    }
    ctx.restore();
  }
};

panels.forEach(p => {
  const datasets = [];
  p.teal.forEach(s => datasets.push({ data: toXY(s), borderColor: TEAL, borderWidth: 3, order: 1 }));
  p.black.forEach(s => datasets.push({ data: toXY(s), borderColor: BLACK, borderWidth: 3, order: 2 }));
  if (p.abs) {
    p.abs.forEach(w => datasets.push({
      data: [{x: w, y: p.absRange[1]}, {x: w, y: p.absRange[0]}],
      borderColor: RED, borderWidth: 2.6, order: 3 }));
  }
  p.em.forEach((w, i) => datasets.push({
    data: [{x: w, y: p.emTop[i]}, {x: w, y: 0}],
    borderColor: GRAY, borderWidth: 1.4, borderDash: [18, 15], order: 9 }));
  datasets.forEach(d => { d.pointRadius = 0; d.tension = 0; d.fill = false; d.borderJoinStyle = 'round'; });

  const tickFont = { family: SERIF, size: 38 };
  new Chart(document.getElementById(p.id), {
    type: 'line',
    data: { datasets },
    options: {
      responsive: false, animation: false, devicePixelRatio: 1, events: [],
      layout: { padding: { left: 0, right: PAGE_W - PLOT_RIGHT, top: p.top,
                           bottom: PAGE_H - p.bottom - (p.last ? 60 : 0) } },
      plugins: { legend: { display: false }, tooltip: { enabled: false } },
      scales: {
        x: {
          type: 'linear', min: X_MIN, max: X_MAX, position: 'bottom',
          display: !!p.last,
          afterBuildTicks: s => { s.ticks = xMajorTicks.map(v => ({value: v})); },
          afterFit: s => { if (p.last) s.height = 60; },
          grid: { display: false, drawTicks: false }, border: { display: false },
          ticks: { font: tickFont, color: '#000', padding: 13, maxRotation: 0, autoSkip: false,
                   callback: v => String(v) }
        },
        y: {
          type: 'linear', min: 0, max: p.yMax, position: 'left',
          afterBuildTicks: s => { s.ticks = p.yTicks.map(v => ({value: v})); },
          afterFit: s => { s.width = PLOT_LEFT; },
          grid: { display: false, drawTicks: false }, border: { display: false },
          ticks: { font: tickFont, color: '#000', padding: 12, autoSkip: false,
                   callback: v => String(v) }
        }
      }
    },
    plugins: [decoPlugin]
  });
});
</script>
</body></html>
